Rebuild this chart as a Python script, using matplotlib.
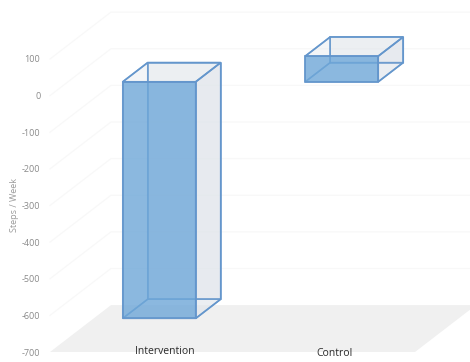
import matplotlib
matplotlib.use("Agg")
import matplotlib.pyplot as plt
from matplotlib.patches import Polygon

groups = ["Intervention", "Control"]
steps = [-646, 70]
yticks = [100, 0, -100, -200, -300, -400, -500, -600, -700]

plt.rcParams["font.family"] = ["Open Sans", "DejaVu Sans"]
plt.rcParams["axes.unicode_minus"] = False

W, H = 470, 362
fig = plt.figure(figsize=(W / 100, H / 100), dpi=100)
ax = fig.add_axes([50 / W, (H - 352) / H, 365 / W, 293 / H])
ax.set_xlim(-0.5, 1.5)
ax.set_ylim(-700, 100)

# depth of the fake 3d box, in x categories and y units
depth_x = 0.334
depth_y = 128.0
bar_w = 0.4
d_front = 0.295
d_back = 0.705


def proj(x, y, d):
    return (x + d * depth_x, y + d * depth_y)


def face(pts, **kw):
    p = Polygon(pts, closed=True, clip_on=False, **kw)
    ax.add_patch(p)


# floor
face([proj(-0.5, -700, 0), proj(1.5, -700, 0), proj(1.5, -700, 1), proj(-0.5, -700, 1)],
     facecolor="#f0f0f0", edgecolor="none", zorder=1)

# side wall and back wall grid
for v in yticks[:-1]:
    x0, y0 = proj(-0.5, v, 0)
    x1, y1 = proj(-0.5, v, 1)
    x2, y2 = proj(1.5, v, 1)
    ax.plot([x0, x1, x2], [y0, y1, y2], color="#f8f8f8", lw=0.9, clip_on=False, zorder=1)

grey = "#dfe4ea"
edge = "#6496cc"

for i, v in enumerate(steps):
    x0, x1 = i - bar_w / 2, i + bar_w / 2
    y0, y1 = min(v, 0), max(v, 0)

    # back, bottom, top and side faces
    back = [proj(x0, y0, d_back), proj(x1, y0, d_back), proj(x1, y1, d_back), proj(x0, y1, d_back)]
    bottom = [proj(x0, y0, d_front), proj(x1, y0, d_front), proj(x1, y0, d_back), proj(x0, y0, d_back)]
    top = [proj(x0, y1, d_front), proj(x1, y1, d_front), proj(x1, y1, d_back), proj(x0, y1, d_back)]
    left = [proj(x0, y0, d_front), proj(x0, y1, d_front), proj(x0, y1, d_back), proj(x0, y0, d_back)]
    right = [proj(x1, y0, d_front), proj(x1, y1, d_front), proj(x1, y1, d_back), proj(x1, y0, d_back)]
    front = [proj(x0, y0, d_front), proj(x1, y0, d_front), proj(x1, y1, d_front), proj(x0, y1, d_front)]

    face(back, facecolor=grey, alpha=0.35, edgecolor="none", zorder=2)
    face(right, facecolor=grey, alpha=0.6, edgecolor="none", zorder=3)
    face(top, facecolor=grey, alpha=0.35, edgecolor="none", zorder=3)
    for pts in (back, bottom, left):
        face(pts, facecolor="none", edgecolor=edge, lw=1.1, alpha=0.8, zorder=4)
    face(front, facecolor="#6ea7d8", alpha=0.8, edgecolor="none", zorder=5)
    for pts in (top, right, front):
        face(pts, facecolor="none", edgecolor=edge, lw=1.2, zorder=6)

for s in ax.spines.values():
    s.set_visible(False)
ax.patch.set_visible(False)
ax.set_xticks([])
ax.set_yticks(yticks)
ax.tick_params(axis="y", length=0, pad=7, labelsize=6.5, labelcolor="#8a8a8a")

fig.text(15 / W, 1 - 205 / H, "Steps / Week", rotation=90, ha="center", va="center",
         fontsize=6.5, color="#9a9a9a")

# category names sit under the floor, a little off the bars
label_x = [0.13, 1.06]
label_y = [-700, -705]
for name, lx, ly in zip(groups, label_x, label_y):
    ax.text(lx, ly, name, ha="center", va="center", fontsize=7.5, color="#2a2a2a", clip_on=False)

fig.savefig("out.png", dpi=100)
